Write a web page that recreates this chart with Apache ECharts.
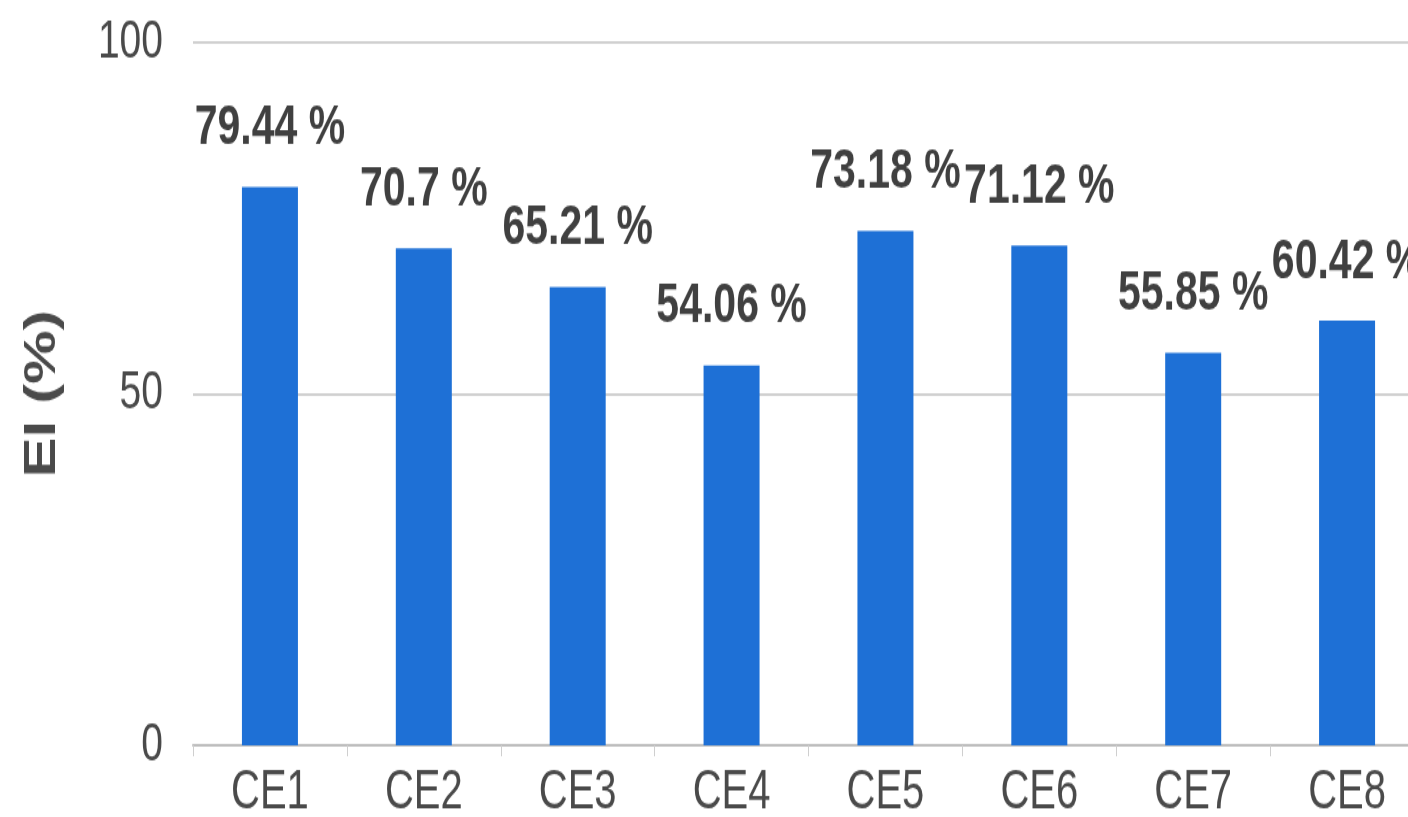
<!DOCTYPE html>
<html>
<head>
<meta charset="utf-8">
<script src="https://cdn.jsdelivr.net/npm/echarts@6/dist/echarts.min.js"></script>
<style>
    html, body { margin: 0; padding: 0; background: #fff; overflow: hidden; width: 1408px; height: 817px; }
    /* the source picture is stretched vertically, so draw flat and stretch */
    #main { width: 1430px; height: 596px; transform: scale(1, 1.37); transform-origin: 0 0; }
</style>
</head>
<body>
<div id="main"></div>
<script>
    var categories = ['CE1', 'CE2', 'CE3', 'CE4', 'CE5', 'CE6', 'CE7', 'CE8'];
    var eiValues = [79.44, 70.7, 65.21, 54.06, 73.18, 71.12, 55.85, 60.42];
    var yTicks = [0, 50, 100];

    var font = '"Liberation Sans", Arial, sans-serif';
    var myChart = echarts.init(document.getElementById('main'));

    var option = {
        animation: false,
        grid: {
            left: 193,
            top: 31,
            width: 1231,
            bottom: 52,
            containLabel: false,
            outerBoundsMode: 'none'
        },
        xAxis: {
            type: 'category',
            data: categories,
            axisLine: { lineStyle: { color: '#bdbdbd', width: 2 } },
            axisTick: { show: true, length: 8, lineStyle: { color: '#cfcfcf', width: 1 } },
            axisLabel: { color: '#4a4a4a', fontSize: 40, fontFamily: font, margin: 15 }
        },
        yAxis: {
            type: 'value',
            min: yTicks[0],
            max: yTicks[yTicks.length - 1],
            interval: yTicks[1] - yTicks[0],
            name: 'EI (%)',
            nameLocation: 'middle',
            nameGap: 128,
            nameTextStyle: { color: '#4a4a4a', fontSize: 44, fontWeight: 'bold', fontFamily: font },
            axisLine: { show: false },
            axisTick: { show: false },
            axisLabel: { color: '#4a4a4a', fontSize: 39, fontFamily: font, margin: 30 },
            splitLine: { lineStyle: { color: '#d0d0d0', width: 2 } }
        },
        series: [{
            type: 'bar',
            data: eiValues,
            barWidth: 56,
            itemStyle: { color: '#1e70d6' },
            label: {
                show: true,
                position: 'top',
                distance: 22,
                color: '#404040',
                fontSize: 41,
                fontWeight: 'bold',
                fontFamily: font,
                formatter: function (p) { return p.value + ' %'; }
            }
        }]
    };
    myChart.setOption(option);
</script>
</body>
</html>
